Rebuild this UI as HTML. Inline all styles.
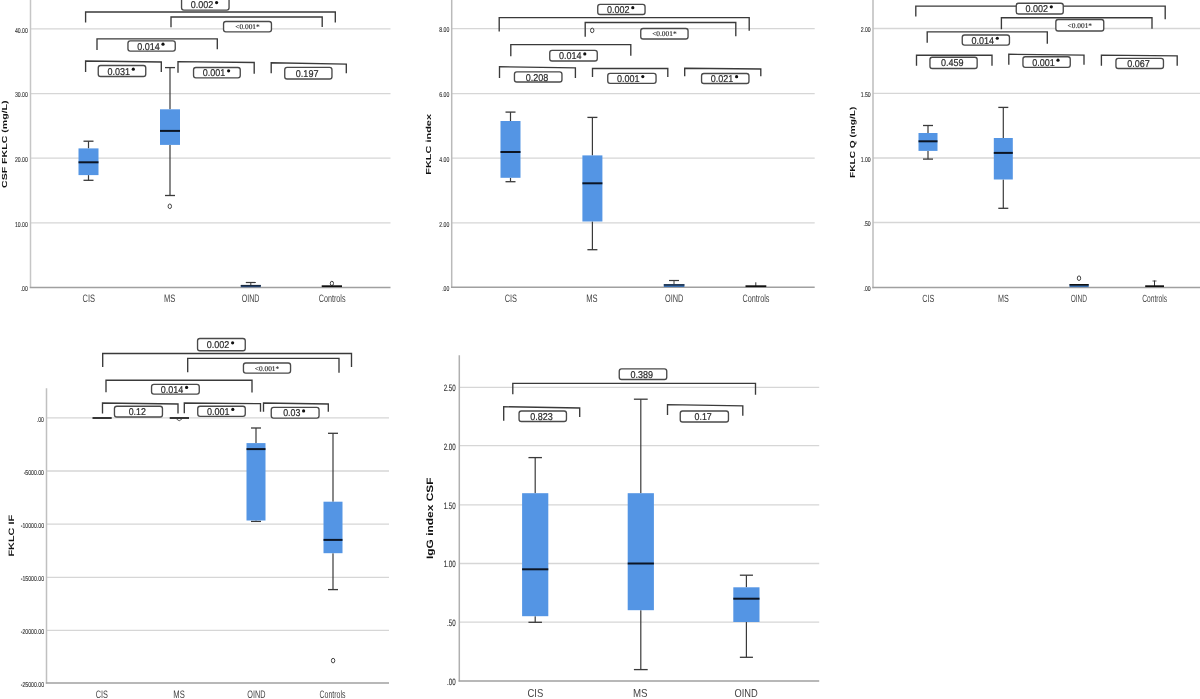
<!DOCTYPE html>
<html><head><meta charset="utf-8"><title>Box plots</title>
<style>html,body{margin:0;padding:0;background:#fff;width:1200px;height:699px;overflow:hidden}svg{display:block;will-change:transform;filter:blur(0.3px);text-rendering:geometricPrecision}</style>
</head><body>
<svg width="1200" height="699" viewBox="0 0 1200 699">
<rect width="1200" height="699" fill="#fff"/>
<line x1="30.5" y1="28.8" x2="390.5" y2="28.8" stroke="#d6d6d6" stroke-width="1.3"/>
<line x1="30.5" y1="93.6" x2="390.5" y2="93.6" stroke="#d6d6d6" stroke-width="1.3"/>
<line x1="30.5" y1="158.1" x2="390.5" y2="158.1" stroke="#d6d6d6" stroke-width="1.3"/>
<line x1="30.5" y1="222.8" x2="390.5" y2="222.8" stroke="#d6d6d6" stroke-width="1.3"/>
<line x1="30.5" y1="0" x2="30.5" y2="288.0" stroke="#c6c6c6" stroke-width="1.5"/>
<line x1="29.8" y1="287.4" x2="390.5" y2="287.4" stroke="#a0a0a0" stroke-width="1.5"/>
<text x="27.8" y="32.6" font-family='"Liberation Sans", sans-serif' font-size="7.1" font-weight="normal" fill="#2e2e2e" text-anchor="end" textLength="12.9" lengthAdjust="spacingAndGlyphs" stroke="#2e2e2e" stroke-width="0.12">40.00</text>
<text x="27.8" y="97.4" font-family='"Liberation Sans", sans-serif' font-size="7.1" font-weight="normal" fill="#2e2e2e" text-anchor="end" textLength="12.9" lengthAdjust="spacingAndGlyphs" stroke="#2e2e2e" stroke-width="0.12">30.00</text>
<text x="27.8" y="161.9" font-family='"Liberation Sans", sans-serif' font-size="7.1" font-weight="normal" fill="#2e2e2e" text-anchor="end" textLength="12.9" lengthAdjust="spacingAndGlyphs" stroke="#2e2e2e" stroke-width="0.12">20.00</text>
<text x="27.8" y="226.6" font-family='"Liberation Sans", sans-serif' font-size="7.1" font-weight="normal" fill="#2e2e2e" text-anchor="end" textLength="12.9" lengthAdjust="spacingAndGlyphs" stroke="#2e2e2e" stroke-width="0.12">10.00</text>
<text x="27.8" y="291.2" font-family='"Liberation Sans", sans-serif' font-size="7.1" font-weight="normal" fill="#2e2e2e" text-anchor="end" textLength="7.16" lengthAdjust="spacingAndGlyphs" stroke="#2e2e2e" stroke-width="0.12">.00</text>
<text transform="translate(7.10,144.20) rotate(-90)" x="0" y="0" font-family='"Liberation Sans", sans-serif' font-size="7.3" font-weight="bold" fill="#111" text-anchor="middle" textLength="87.6" lengthAdjust="spacingAndGlyphs">CSF FKLC (mg/L)</text>
<line x1="88.5" y1="141.2" x2="88.5" y2="148.4" stroke="#3a3a3a" stroke-width="1.2"/>
<line x1="88.5" y1="175.1" x2="88.5" y2="180.3" stroke="#3a3a3a" stroke-width="1.2"/>
<line x1="83.5" y1="141.2" x2="93.5" y2="141.2" stroke="#3a3a3a" stroke-width="1.3"/>
<line x1="83.5" y1="180.3" x2="93.5" y2="180.3" stroke="#3a3a3a" stroke-width="1.3"/>
<rect x="78.50" y="148.4" width="20" height="26.70" fill="#5495e4"/>
<line x1="78.5" y1="162.3" x2="98.5" y2="162.3" stroke="#0c1524" stroke-width="2.0"/>
<line x1="170" y1="67.6" x2="170" y2="109.3" stroke="#3a3a3a" stroke-width="1.2"/>
<line x1="170" y1="144.9" x2="170" y2="195.5" stroke="#3a3a3a" stroke-width="1.2"/>
<line x1="165.0" y1="67.6" x2="175.0" y2="67.6" stroke="#3a3a3a" stroke-width="1.3"/>
<line x1="165.0" y1="195.5" x2="175.0" y2="195.5" stroke="#3a3a3a" stroke-width="1.3"/>
<rect x="160.00" y="109.3" width="20" height="35.60" fill="#5495e4"/>
<line x1="160.0" y1="130.9" x2="180.0" y2="130.9" stroke="#0c1524" stroke-width="2.0"/>
<ellipse cx="169.8" cy="206.3" rx="1.7" ry="2.29" fill="none" stroke="#444" stroke-width="1.0"/>
<line x1="250.8" y1="282.5" x2="250.8" y2="285" stroke="#3a3a3a" stroke-width="1.0"/>
<line x1="245.8" y1="282.5" x2="255.8" y2="282.5" stroke="#3a3a3a" stroke-width="1.2"/>
<rect x="240.8" y="285" width="20" height="2.2" fill="#2d4f80"/>
<line x1="240.8" y1="285.6" x2="260.8" y2="285.6" stroke="#1a2a40" stroke-width="1.4"/>
<ellipse cx="331.9" cy="283.4" rx="1.6" ry="2.16" fill="none" stroke="#444" stroke-width="1.0"/>
<line x1="321.7" y1="286.2" x2="342" y2="286.2" stroke="#111" stroke-width="1.8"/>
<text x="88.75" y="301.9" font-family='"Liberation Sans", sans-serif' font-size="10.89" font-weight="normal" fill="#444" text-anchor="middle" textLength="12.5" lengthAdjust="spacingAndGlyphs">CIS</text>
<text x="169.65" y="301.9" font-family='"Liberation Sans", sans-serif' font-size="10.89" font-weight="normal" fill="#444" text-anchor="middle" textLength="11.3" lengthAdjust="spacingAndGlyphs">MS</text>
<text x="250.6" y="301.9" font-family='"Liberation Sans", sans-serif' font-size="10.89" font-weight="normal" fill="#444" text-anchor="middle" textLength="17.8" lengthAdjust="spacingAndGlyphs">OIND</text>
<text x="332.1" y="301.9" font-family='"Liberation Sans", sans-serif' font-size="10.89" font-weight="normal" fill="#444" text-anchor="middle" textLength="26.8" lengthAdjust="spacingAndGlyphs">Controls</text>
<polyline points="85.6,22.6 85.6,12 335.3,12 335.3,22.5" fill="none" stroke="#3a3a3a" stroke-width="1.35"/>
<polyline points="171,27.3 171,17 322.2,17 322.2,27" fill="none" stroke="#3a3a3a" stroke-width="1.35"/>
<polyline points="97,50 97,38.9 217.3,38.9 217.3,49.3" fill="none" stroke="#3a3a3a" stroke-width="1.35"/>
<polyline points="85.6,72 85.6,61 161.3,62 161.3,72" fill="none" stroke="#3a3a3a" stroke-width="1.35"/>
<polyline points="178,72.7 178,61.6 254.2,62.5 254.2,73.8" fill="none" stroke="#3a3a3a" stroke-width="1.35"/>
<polyline points="271.2,73.3 271.2,62.8 346.3,64.2 346.3,73.3" fill="none" stroke="#3a3a3a" stroke-width="1.35"/>
<rect x="181.55" y="-2.80" width="47.50" height="12.90" rx="2.3" ry="2.3" fill="#fff" stroke="#4a4a4a" stroke-width="1.35"/>
<text x="190.8" y="8.0" font-family='"Liberation Sans", sans-serif' font-size="9.9" font-weight="normal" fill="#2a2a2a" text-anchor="start" textLength="22.6" lengthAdjust="spacingAndGlyphs" stroke="#2a2a2a" stroke-width="0.2">0.002</text>
<circle cx="216.60" cy="2.60" r="1.6" fill="#111"/>
<rect x="223.55" y="21.50" width="47.90" height="10.30" rx="2.3" ry="2.3" fill="#fff" stroke="#4a4a4a" stroke-width="1.35"/>
<text x="247.5" y="29.25" font-family='"Liberation Serif", serif' font-size="7.2" font-weight="normal" fill="#2a2a2a" text-anchor="middle" textLength="24.5" lengthAdjust="spacingAndGlyphs" stroke="#2a2a2a" stroke-width="0.15">&lt;0.001*</text>
<rect x="127.95" y="40.90" width="47.30" height="10.20" rx="2.3" ry="2.3" fill="#fff" stroke="#4a4a4a" stroke-width="1.35"/>
<text x="137.2" y="49.6" font-family='"Liberation Sans", sans-serif' font-size="9.9" font-weight="normal" fill="#2a2a2a" text-anchor="start" textLength="22.6" lengthAdjust="spacingAndGlyphs" stroke="#2a2a2a" stroke-width="0.2">0.014</text>
<circle cx="163.00" cy="44.20" r="1.6" fill="#111"/>
<rect x="98.25" y="65.50" width="47.50" height="11.00" rx="2.3" ry="2.3" fill="#fff" stroke="#4a4a4a" stroke-width="1.35"/>
<text x="107.5" y="74.6" font-family='"Liberation Sans", sans-serif' font-size="9.9" font-weight="normal" fill="#2a2a2a" text-anchor="start" textLength="22.6" lengthAdjust="spacingAndGlyphs" stroke="#2a2a2a" stroke-width="0.2">0.031</text>
<circle cx="133.30" cy="69.20" r="1.6" fill="#111"/>
<rect x="193.55" y="67.50" width="46.70" height="10.30" rx="2.3" ry="2.3" fill="#fff" stroke="#4a4a4a" stroke-width="1.35"/>
<text x="202.8" y="76.25" font-family='"Liberation Sans", sans-serif' font-size="9.9" font-weight="normal" fill="#2a2a2a" text-anchor="start" textLength="22.6" lengthAdjust="spacingAndGlyphs" stroke="#2a2a2a" stroke-width="0.2">0.001</text>
<circle cx="228.60" cy="70.85" r="1.6" fill="#111"/>
<rect x="284.75" y="67.40" width="47.20" height="11.60" rx="2.3" ry="2.3" fill="#fff" stroke="#4a4a4a" stroke-width="1.35"/>
<text x="307.15" y="76.8" font-family='"Liberation Sans", sans-serif' font-size="9.9" font-weight="normal" fill="#2a2a2a" text-anchor="middle" textLength="22.6" lengthAdjust="spacingAndGlyphs" stroke="#2a2a2a" stroke-width="0.2">0.197</text>
<line x1="451.7" y1="28.6" x2="814.7" y2="28.6" stroke="#d6d6d6" stroke-width="1.3"/>
<line x1="451.7" y1="93.6" x2="814.7" y2="93.6" stroke="#d6d6d6" stroke-width="1.3"/>
<line x1="451.7" y1="158.1" x2="814.7" y2="158.1" stroke="#d6d6d6" stroke-width="1.3"/>
<line x1="451.7" y1="222.8" x2="814.7" y2="222.8" stroke="#d6d6d6" stroke-width="1.3"/>
<line x1="451.7" y1="0" x2="451.7" y2="287.8" stroke="#bababa" stroke-width="1.5"/>
<line x1="451.0" y1="287.2" x2="814.7" y2="287.2" stroke="#a0a0a0" stroke-width="1.5"/>
<text x="449.3" y="32.4" font-family='"Liberation Sans", sans-serif' font-size="7.1" font-weight="normal" fill="#2e2e2e" text-anchor="end" textLength="10.03" lengthAdjust="spacingAndGlyphs" stroke="#2e2e2e" stroke-width="0.12">8.00</text>
<text x="449.3" y="97.4" font-family='"Liberation Sans", sans-serif' font-size="7.1" font-weight="normal" fill="#2e2e2e" text-anchor="end" textLength="10.03" lengthAdjust="spacingAndGlyphs" stroke="#2e2e2e" stroke-width="0.12">6.00</text>
<text x="449.3" y="161.9" font-family='"Liberation Sans", sans-serif' font-size="7.1" font-weight="normal" fill="#2e2e2e" text-anchor="end" textLength="10.03" lengthAdjust="spacingAndGlyphs" stroke="#2e2e2e" stroke-width="0.12">4.00</text>
<text x="449.3" y="226.6" font-family='"Liberation Sans", sans-serif' font-size="7.1" font-weight="normal" fill="#2e2e2e" text-anchor="end" textLength="10.03" lengthAdjust="spacingAndGlyphs" stroke="#2e2e2e" stroke-width="0.12">2.00</text>
<text x="449.3" y="291.0" font-family='"Liberation Sans", sans-serif' font-size="7.1" font-weight="normal" fill="#2e2e2e" text-anchor="end" textLength="7.16" lengthAdjust="spacingAndGlyphs" stroke="#2e2e2e" stroke-width="0.12">.00</text>
<text transform="translate(431.30,144.40) rotate(-90)" x="0" y="0" font-family='"Liberation Sans", sans-serif' font-size="7.3" font-weight="bold" fill="#111" text-anchor="middle" textLength="60.8" lengthAdjust="spacingAndGlyphs">FKLC index</text>
<line x1="510.5" y1="112.1" x2="510.5" y2="121" stroke="#3a3a3a" stroke-width="1.2"/>
<line x1="510.5" y1="177.8" x2="510.5" y2="181.7" stroke="#3a3a3a" stroke-width="1.2"/>
<line x1="505.5" y1="112.1" x2="515.5" y2="112.1" stroke="#3a3a3a" stroke-width="1.3"/>
<line x1="505.5" y1="181.7" x2="515.5" y2="181.7" stroke="#3a3a3a" stroke-width="1.3"/>
<rect x="500.50" y="121" width="20" height="56.80" fill="#5495e4"/>
<line x1="500.5" y1="152" x2="520.5" y2="152" stroke="#0c1524" stroke-width="2.0"/>
<line x1="592.4" y1="117.4" x2="592.4" y2="155.4" stroke="#3a3a3a" stroke-width="1.2"/>
<line x1="592.4" y1="221.5" x2="592.4" y2="249.7" stroke="#3a3a3a" stroke-width="1.2"/>
<line x1="587.4" y1="117.4" x2="597.4" y2="117.4" stroke="#3a3a3a" stroke-width="1.3"/>
<line x1="587.4" y1="249.7" x2="597.4" y2="249.7" stroke="#3a3a3a" stroke-width="1.3"/>
<rect x="582.40" y="155.4" width="20" height="66.10" fill="#5495e4"/>
<line x1="582.4" y1="183.3" x2="602.4" y2="183.3" stroke="#0c1524" stroke-width="2.0"/>
<ellipse cx="592.2" cy="30.4" rx="1.7" ry="2.29" fill="none" stroke="#444" stroke-width="1.0"/>
<line x1="674" y1="280.5" x2="674" y2="284.2" stroke="#3a3a3a" stroke-width="1.0"/>
<line x1="669" y1="280.5" x2="679" y2="280.5" stroke="#3a3a3a" stroke-width="1.2"/>
<rect x="663.8" y="284.2" width="20.6" height="2.8" fill="#3a6fb0"/>
<line x1="663.8" y1="284.9" x2="684.4" y2="284.9" stroke="#1a2a40" stroke-width="1.4"/>
<line x1="755.8" y1="282.3" x2="755.8" y2="286" stroke="#333" stroke-width="1.0"/>
<line x1="745.5" y1="286.2" x2="766.3" y2="286.2" stroke="#111" stroke-width="1.8"/>
<text x="510.85" y="301.9" font-family='"Liberation Sans", sans-serif' font-size="10.89" font-weight="normal" fill="#444" text-anchor="middle" textLength="12.3" lengthAdjust="spacingAndGlyphs">CIS</text>
<text x="591.85" y="301.9" font-family='"Liberation Sans", sans-serif' font-size="10.89" font-weight="normal" fill="#444" text-anchor="middle" textLength="11.3" lengthAdjust="spacingAndGlyphs">MS</text>
<text x="674.15" y="301.9" font-family='"Liberation Sans", sans-serif' font-size="10.89" font-weight="normal" fill="#444" text-anchor="middle" textLength="18.3" lengthAdjust="spacingAndGlyphs">OIND</text>
<text x="756.0" y="301.9" font-family='"Liberation Sans", sans-serif' font-size="10.89" font-weight="normal" fill="#444" text-anchor="middle" textLength="27.0" lengthAdjust="spacingAndGlyphs">Controls</text>
<polyline points="499.2,31.5 499.2,17.6 749.2,17.6 749.2,30.8" fill="none" stroke="#3a3a3a" stroke-width="1.35"/>
<polyline points="585.2,36.7 585.2,22.5 735.8,22.5 735.8,36.3" fill="none" stroke="#3a3a3a" stroke-width="1.35"/>
<polyline points="510.8,56.2 510.8,44.6 630.8,44.6 630.8,55.8" fill="none" stroke="#3a3a3a" stroke-width="1.35"/>
<polyline points="499.5,78 499.5,66.7 575.4,67.8 575.4,78" fill="none" stroke="#3a3a3a" stroke-width="1.35"/>
<polyline points="592.5,77 592.5,68.5 667.8,68.5 667.8,77" fill="none" stroke="#3a3a3a" stroke-width="1.35"/>
<polyline points="684.7,76.3 684.7,68.3 760.8,69 760.8,76.3" fill="none" stroke="#3a3a3a" stroke-width="1.35"/>
<rect x="597.75" y="4.40" width="47.30" height="10.10" rx="2.3" ry="2.3" fill="#fff" stroke="#4a4a4a" stroke-width="1.35"/>
<text x="607.0" y="13.05" font-family='"Liberation Sans", sans-serif' font-size="9.9" font-weight="normal" fill="#2a2a2a" text-anchor="start" textLength="22.6" lengthAdjust="spacingAndGlyphs" stroke="#2a2a2a" stroke-width="0.2">0.002</text>
<circle cx="632.80" cy="7.65" r="1.6" fill="#111"/>
<rect x="640.75" y="28.50" width="47.30" height="10.50" rx="2.3" ry="2.3" fill="#fff" stroke="#4a4a4a" stroke-width="1.35"/>
<text x="664.4" y="36.35" font-family='"Liberation Serif", serif' font-size="7.2" font-weight="normal" fill="#2a2a2a" text-anchor="middle" textLength="24.5" lengthAdjust="spacingAndGlyphs" stroke="#2a2a2a" stroke-width="0.15">&lt;0.001*</text>
<rect x="549.75" y="50.40" width="47.50" height="10.60" rx="2.3" ry="2.3" fill="#fff" stroke="#4a4a4a" stroke-width="1.35"/>
<text x="559.0" y="59.3" font-family='"Liberation Sans", sans-serif' font-size="9.9" font-weight="normal" fill="#2a2a2a" text-anchor="start" textLength="22.6" lengthAdjust="spacingAndGlyphs" stroke="#2a2a2a" stroke-width="0.2">0.014</text>
<circle cx="584.80" cy="53.90" r="1.6" fill="#111"/>
<rect x="514.45" y="71.90" width="47.50" height="10.10" rx="2.3" ry="2.3" fill="#fff" stroke="#4a4a4a" stroke-width="1.35"/>
<text x="537.0" y="80.55" font-family='"Liberation Sans", sans-serif' font-size="9.9" font-weight="normal" fill="#2a2a2a" text-anchor="middle" textLength="22.6" lengthAdjust="spacingAndGlyphs" stroke="#2a2a2a" stroke-width="0.2">0.208</text>
<rect x="607.75" y="73.40" width="48.30" height="9.90" rx="2.3" ry="2.3" fill="#fff" stroke="#4a4a4a" stroke-width="1.35"/>
<text x="617.0" y="81.95" font-family='"Liberation Sans", sans-serif' font-size="9.9" font-weight="normal" fill="#2a2a2a" text-anchor="start" textLength="22.6" lengthAdjust="spacingAndGlyphs" stroke="#2a2a2a" stroke-width="0.2">0.001</text>
<circle cx="642.80" cy="76.55" r="1.6" fill="#111"/>
<rect x="701.55" y="73.50" width="47.40" height="10.00" rx="2.3" ry="2.3" fill="#fff" stroke="#4a4a4a" stroke-width="1.35"/>
<text x="710.8" y="82.1" font-family='"Liberation Sans", sans-serif' font-size="9.9" font-weight="normal" fill="#2a2a2a" text-anchor="start" textLength="22.6" lengthAdjust="spacingAndGlyphs" stroke="#2a2a2a" stroke-width="0.2">0.021</text>
<circle cx="736.60" cy="76.70" r="1.6" fill="#111"/>
<line x1="873" y1="28.5" x2="1200" y2="28.5" stroke="#d6d6d6" stroke-width="1.3"/>
<line x1="873" y1="93.4" x2="1200" y2="93.4" stroke="#d6d6d6" stroke-width="1.3"/>
<line x1="873" y1="158" x2="1200" y2="158" stroke="#d6d6d6" stroke-width="1.3"/>
<line x1="873" y1="222.5" x2="1200" y2="222.5" stroke="#d6d6d6" stroke-width="1.3"/>
<line x1="873" y1="0" x2="873" y2="288.20000000000005" stroke="#bdbdbd" stroke-width="1.5"/>
<line x1="872.3" y1="287.6" x2="1200" y2="287.6" stroke="#a0a0a0" stroke-width="1.5"/>
<text x="870.7" y="32.3" font-family='"Liberation Sans", sans-serif' font-size="7.1" font-weight="normal" fill="#2e2e2e" text-anchor="end" textLength="10.03" lengthAdjust="spacingAndGlyphs" stroke="#2e2e2e" stroke-width="0.12">2.00</text>
<text x="870.7" y="97.2" font-family='"Liberation Sans", sans-serif' font-size="7.1" font-weight="normal" fill="#2e2e2e" text-anchor="end" textLength="10.03" lengthAdjust="spacingAndGlyphs" stroke="#2e2e2e" stroke-width="0.12">1.50</text>
<text x="870.7" y="161.8" font-family='"Liberation Sans", sans-serif' font-size="7.1" font-weight="normal" fill="#2e2e2e" text-anchor="end" textLength="10.03" lengthAdjust="spacingAndGlyphs" stroke="#2e2e2e" stroke-width="0.12">1.00</text>
<text x="870.7" y="226.3" font-family='"Liberation Sans", sans-serif' font-size="7.1" font-weight="normal" fill="#2e2e2e" text-anchor="end" textLength="7.16" lengthAdjust="spacingAndGlyphs" stroke="#2e2e2e" stroke-width="0.12">.50</text>
<text x="870.7" y="291.4" font-family='"Liberation Sans", sans-serif' font-size="7.1" font-weight="normal" fill="#2e2e2e" text-anchor="end" textLength="7.16" lengthAdjust="spacingAndGlyphs" stroke="#2e2e2e" stroke-width="0.12">.00</text>
<text transform="translate(855.00,142.30) rotate(-90)" x="0" y="0" font-family='"Liberation Sans", sans-serif' font-size="7.3" font-weight="bold" fill="#111" text-anchor="middle" textLength="71.2" lengthAdjust="spacingAndGlyphs">FKLC Q (mg/L)</text>
<line x1="928" y1="125.5" x2="928" y2="133" stroke="#3a3a3a" stroke-width="1.2"/>
<line x1="928" y1="150.9" x2="928" y2="159.1" stroke="#3a3a3a" stroke-width="1.2"/>
<line x1="923.0" y1="125.5" x2="933.0" y2="125.5" stroke="#3a3a3a" stroke-width="1.3"/>
<line x1="923.0" y1="159.1" x2="933.0" y2="159.1" stroke="#3a3a3a" stroke-width="1.3"/>
<rect x="918.50" y="133" width="19" height="17.90" fill="#5495e4"/>
<line x1="918.5" y1="141.3" x2="937.5" y2="141.3" stroke="#0c1524" stroke-width="2.0"/>
<line x1="1003.3" y1="107.4" x2="1003.3" y2="138" stroke="#3a3a3a" stroke-width="1.2"/>
<line x1="1003.3" y1="179.5" x2="1003.3" y2="208.3" stroke="#3a3a3a" stroke-width="1.2"/>
<line x1="998.3" y1="107.4" x2="1008.3" y2="107.4" stroke="#3a3a3a" stroke-width="1.3"/>
<line x1="998.3" y1="208.3" x2="1008.3" y2="208.3" stroke="#3a3a3a" stroke-width="1.3"/>
<rect x="993.80" y="138" width="19" height="41.50" fill="#5495e4"/>
<line x1="993.8" y1="152.9" x2="1012.8" y2="152.9" stroke="#0c1524" stroke-width="2.0"/>
<ellipse cx="1079" cy="278.2" rx="1.7" ry="2.29" fill="none" stroke="#444" stroke-width="1.0"/>
<rect x="1069.5" y="284.3" width="19.2" height="2.8" fill="#3a6fb0"/>
<line x1="1069.5" y1="284.8" x2="1088.7" y2="284.8" stroke="#111" stroke-width="1.6"/>
<line x1="1154.5" y1="280.5" x2="1154.5" y2="286" stroke="#333" stroke-width="1.0"/>
<line x1="1152.5" y1="281" x2="1156.5" y2="281" stroke="#333" stroke-width="0.8"/>
<line x1="1145.2" y1="286.2" x2="1164" y2="286.2" stroke="#111" stroke-width="1.8"/>
<text x="928.2" y="301.9" font-family='"Liberation Sans", sans-serif' font-size="10.48" font-weight="normal" fill="#444" text-anchor="middle" textLength="12.0" lengthAdjust="spacingAndGlyphs">CIS</text>
<text x="1003.4" y="301.9" font-family='"Liberation Sans", sans-serif' font-size="10.48" font-weight="normal" fill="#444" text-anchor="middle" textLength="10.8" lengthAdjust="spacingAndGlyphs">MS</text>
<text x="1078.85" y="301.9" font-family='"Liberation Sans", sans-serif' font-size="10.48" font-weight="normal" fill="#444" text-anchor="middle" textLength="16.3" lengthAdjust="spacingAndGlyphs">OIND</text>
<text x="1154.6" y="301.9" font-family='"Liberation Sans", sans-serif' font-size="10.48" font-weight="normal" fill="#444" text-anchor="middle" textLength="24.8" lengthAdjust="spacingAndGlyphs">Controls</text>
<polyline points="915.8,16.5 915.8,6.1 1165.2,6.1 1165.2,19.2" fill="none" stroke="#3a3a3a" stroke-width="1.35"/>
<polyline points="1001.4,29.2 1001.4,17.7 1152,17.7 1152,28.8" fill="none" stroke="#3a3a3a" stroke-width="1.35"/>
<polyline points="927.2,42.7 927.2,31.9 1047.3,31.9 1047.3,43.8" fill="none" stroke="#3a3a3a" stroke-width="1.35"/>
<polyline points="916.5,65.7 916.5,55.2 992,55.2 992,65.7" fill="none" stroke="#3a3a3a" stroke-width="1.35"/>
<polyline points="1008.8,64.8 1008.8,54.3 1084,55.2 1084,64.8" fill="none" stroke="#3a3a3a" stroke-width="1.35"/>
<polyline points="1101.4,65.7 1101.4,55.2 1177.2,55.8 1177.2,65.7" fill="none" stroke="#3a3a3a" stroke-width="1.35"/>
<rect x="1016.25" y="3.20" width="47.00" height="10.80" rx="2.3" ry="2.3" fill="#fff" stroke="#4a4a4a" stroke-width="1.35"/>
<text x="1025.5" y="12.2" font-family='"Liberation Sans", sans-serif' font-size="9.9" font-weight="normal" fill="#2a2a2a" text-anchor="start" textLength="22.6" lengthAdjust="spacingAndGlyphs" stroke="#2a2a2a" stroke-width="0.2">0.002</text>
<circle cx="1051.30" cy="6.80" r="1.6" fill="#111"/>
<rect x="1055.85" y="19.50" width="47.90" height="11.50" rx="2.3" ry="2.3" fill="#fff" stroke="#4a4a4a" stroke-width="1.35"/>
<text x="1079.8" y="27.85" font-family='"Liberation Serif", serif' font-size="7.2" font-weight="normal" fill="#2a2a2a" text-anchor="middle" textLength="24.5" lengthAdjust="spacingAndGlyphs" stroke="#2a2a2a" stroke-width="0.15">&lt;0.001*</text>
<rect x="962.25" y="35.00" width="47.20" height="10.10" rx="2.3" ry="2.3" fill="#fff" stroke="#4a4a4a" stroke-width="1.35"/>
<text x="971.5" y="43.65" font-family='"Liberation Sans", sans-serif' font-size="9.9" font-weight="normal" fill="#2a2a2a" text-anchor="start" textLength="22.6" lengthAdjust="spacingAndGlyphs" stroke="#2a2a2a" stroke-width="0.2">0.014</text>
<circle cx="997.30" cy="38.25" r="1.6" fill="#111"/>
<rect x="929.95" y="57.20" width="47.20" height="11.30" rx="2.3" ry="2.3" fill="#fff" stroke="#4a4a4a" stroke-width="1.35"/>
<text x="952.35" y="66.45" font-family='"Liberation Sans", sans-serif' font-size="9.9" font-weight="normal" fill="#2a2a2a" text-anchor="middle" textLength="22.6" lengthAdjust="spacingAndGlyphs" stroke="#2a2a2a" stroke-width="0.2">0.459</text>
<rect x="1022.95" y="56.70" width="47.30" height="10.60" rx="2.3" ry="2.3" fill="#fff" stroke="#4a4a4a" stroke-width="1.35"/>
<text x="1032.2" y="65.6" font-family='"Liberation Sans", sans-serif' font-size="9.9" font-weight="normal" fill="#2a2a2a" text-anchor="start" textLength="22.6" lengthAdjust="spacingAndGlyphs" stroke="#2a2a2a" stroke-width="0.2">0.001</text>
<circle cx="1058.00" cy="60.20" r="1.6" fill="#111"/>
<rect x="1115.95" y="58.40" width="47.50" height="10.10" rx="2.3" ry="2.3" fill="#fff" stroke="#4a4a4a" stroke-width="1.35"/>
<text x="1138.5" y="67.05" font-family='"Liberation Sans", sans-serif' font-size="9.9" font-weight="normal" fill="#2a2a2a" text-anchor="middle" textLength="22.6" lengthAdjust="spacingAndGlyphs" stroke="#2a2a2a" stroke-width="0.2">0.067</text>
<line x1="46.5" y1="417.8" x2="389" y2="417.8" stroke="#d6d6d6" stroke-width="1.3"/>
<line x1="46.5" y1="471" x2="389" y2="471" stroke="#d6d6d6" stroke-width="1.3"/>
<line x1="46.5" y1="524.2" x2="389" y2="524.2" stroke="#d6d6d6" stroke-width="1.3"/>
<line x1="46.5" y1="577.3" x2="389" y2="577.3" stroke="#d6d6d6" stroke-width="1.3"/>
<line x1="46.5" y1="630.4" x2="389" y2="630.4" stroke="#d6d6d6" stroke-width="1.3"/>
<line x1="46.5" y1="388.3" x2="46.5" y2="683.6" stroke="#c0c0c0" stroke-width="1.5"/>
<line x1="45.8" y1="683" x2="389" y2="683" stroke="#a0a0a0" stroke-width="1.5"/>
<text x="44" y="421.6" font-family='"Liberation Sans", sans-serif' font-size="7.1" font-weight="normal" fill="#2e2e2e" text-anchor="end" textLength="7.16" lengthAdjust="spacingAndGlyphs" stroke="#2e2e2e" stroke-width="0.12">.00</text>
<text x="44" y="474.8" font-family='"Liberation Sans", sans-serif' font-size="7.1" font-weight="normal" fill="#2e2e2e" text-anchor="end" textLength="20.35" lengthAdjust="spacingAndGlyphs" stroke="#2e2e2e" stroke-width="0.12">-5000.00</text>
<text x="44" y="528.0" font-family='"Liberation Sans", sans-serif' font-size="7.1" font-weight="normal" fill="#2e2e2e" text-anchor="end" textLength="23.21" lengthAdjust="spacingAndGlyphs" stroke="#2e2e2e" stroke-width="0.12">-10000.00</text>
<text x="44" y="581.1" font-family='"Liberation Sans", sans-serif' font-size="7.1" font-weight="normal" fill="#2e2e2e" text-anchor="end" textLength="23.21" lengthAdjust="spacingAndGlyphs" stroke="#2e2e2e" stroke-width="0.12">-15000.00</text>
<text x="44" y="634.2" font-family='"Liberation Sans", sans-serif' font-size="7.1" font-weight="normal" fill="#2e2e2e" text-anchor="end" textLength="23.21" lengthAdjust="spacingAndGlyphs" stroke="#2e2e2e" stroke-width="0.12">-20000.00</text>
<text x="44" y="686.8" font-family='"Liberation Sans", sans-serif' font-size="7.1" font-weight="normal" fill="#2e2e2e" text-anchor="end" textLength="23.21" lengthAdjust="spacingAndGlyphs" stroke="#2e2e2e" stroke-width="0.12">-25000.00</text>
<text transform="translate(14.00,535.75) rotate(-90)" x="0" y="0" font-family='"Liberation Sans", sans-serif' font-size="7.8" font-weight="bold" fill="#111" text-anchor="middle" textLength="41.7" lengthAdjust="spacingAndGlyphs">FKLC IF</text>
<line x1="92.5" y1="418" x2="111.7" y2="418" stroke="#222" stroke-width="1.8"/>
<line x1="169.7" y1="418" x2="189" y2="418" stroke="#222" stroke-width="1.8"/>
<path d="M176.8,419.2 L179.2,417.6 L181.6,419.2 L179.2,420.8 Z" fill="none" stroke="#333" stroke-width="0.8"/>
<line x1="256" y1="428" x2="256" y2="443.1" stroke="#3a3a3a" stroke-width="1.2"/>
<line x1="256" y1="520.5" x2="256" y2="521.4" stroke="#3a3a3a" stroke-width="1.2"/>
<line x1="251.0" y1="428" x2="261.0" y2="428" stroke="#3a3a3a" stroke-width="1.3"/>
<line x1="251.0" y1="521.4" x2="261.0" y2="521.4" stroke="#3a3a3a" stroke-width="1.3"/>
<rect x="246.50" y="443.1" width="19" height="77.40" fill="#5495e4"/>
<line x1="246.5" y1="449.1" x2="265.5" y2="449.1" stroke="#0c1524" stroke-width="2.0"/>
<line x1="333" y1="433.3" x2="333" y2="501.7" stroke="#3a3a3a" stroke-width="1.2"/>
<line x1="333" y1="553.2" x2="333" y2="589.6" stroke="#3a3a3a" stroke-width="1.2"/>
<line x1="328.0" y1="433.3" x2="338.0" y2="433.3" stroke="#3a3a3a" stroke-width="1.3"/>
<line x1="328.0" y1="589.6" x2="338.0" y2="589.6" stroke="#3a3a3a" stroke-width="1.3"/>
<rect x="323.50" y="501.7" width="19" height="51.50" fill="#5495e4"/>
<line x1="323.5" y1="539.9" x2="342.5" y2="539.9" stroke="#0c1524" stroke-width="2.0"/>
<ellipse cx="333.1" cy="660.6" rx="1.7" ry="2.29" fill="none" stroke="#444" stroke-width="1.0"/>
<text x="101.9" y="698.0" font-family='"Liberation Sans", sans-serif' font-size="10.89" font-weight="normal" fill="#444" text-anchor="middle" textLength="12.2" lengthAdjust="spacingAndGlyphs">CIS</text>
<text x="179.0" y="698.0" font-family='"Liberation Sans", sans-serif' font-size="10.89" font-weight="normal" fill="#444" text-anchor="middle" textLength="11.4" lengthAdjust="spacingAndGlyphs">MS</text>
<text x="256.4" y="698.0" font-family='"Liberation Sans", sans-serif' font-size="10.89" font-weight="normal" fill="#444" text-anchor="middle" textLength="18.2" lengthAdjust="spacingAndGlyphs">OIND</text>
<text x="332.5" y="698.0" font-family='"Liberation Sans", sans-serif' font-size="10.89" font-weight="normal" fill="#444" text-anchor="middle" textLength="26.0" lengthAdjust="spacingAndGlyphs">Controls</text>
<polyline points="102.7,367 102.7,353.5 351.5,353.5 351.5,367" fill="none" stroke="#3a3a3a" stroke-width="1.35"/>
<polyline points="187.7,372.2 187.7,358.3 339,358.3 339,372.7" fill="none" stroke="#3a3a3a" stroke-width="1.35"/>
<polyline points="106,392.2 106,380.2 252,380.2 252,392.5" fill="none" stroke="#3a3a3a" stroke-width="1.35"/>
<polyline points="102.5,413.5 102.5,403 178,404 178,413.5" fill="none" stroke="#3a3a3a" stroke-width="1.35"/>
<polyline points="184.3,413.2 184.3,403 260.5,403.7 260.5,411.7" fill="none" stroke="#3a3a3a" stroke-width="1.35"/>
<polyline points="263.5,411.7 263.5,403 328.3,404 328.3,411.7" fill="none" stroke="#3a3a3a" stroke-width="1.35"/>
<rect x="197.55" y="338.50" width="47.70" height="12.20" rx="2.3" ry="2.3" fill="#fff" stroke="#4a4a4a" stroke-width="1.35"/>
<text x="206.8" y="348.2" font-family='"Liberation Sans", sans-serif' font-size="9.9" font-weight="normal" fill="#2a2a2a" text-anchor="start" textLength="22.6" lengthAdjust="spacingAndGlyphs" stroke="#2a2a2a" stroke-width="0.2">0.002</text>
<circle cx="232.60" cy="342.80" r="1.6" fill="#111"/>
<rect x="243.45" y="363.00" width="47.10" height="10.10" rx="2.3" ry="2.3" fill="#fff" stroke="#4a4a4a" stroke-width="1.35"/>
<text x="267.0" y="370.65" font-family='"Liberation Serif", serif' font-size="7.2" font-weight="normal" fill="#2a2a2a" text-anchor="middle" textLength="24.5" lengthAdjust="spacingAndGlyphs" stroke="#2a2a2a" stroke-width="0.15">&lt;0.001*</text>
<rect x="151.55" y="384.40" width="47.70" height="9.70" rx="2.3" ry="2.3" fill="#fff" stroke="#4a4a4a" stroke-width="1.35"/>
<text x="160.8" y="392.85" font-family='"Liberation Sans", sans-serif' font-size="9.9" font-weight="normal" fill="#2a2a2a" text-anchor="start" textLength="22.6" lengthAdjust="spacingAndGlyphs" stroke="#2a2a2a" stroke-width="0.2">0.014</text>
<circle cx="186.60" cy="387.45" r="1.6" fill="#111"/>
<rect x="114.45" y="406.20" width="48.00" height="10.80" rx="2.3" ry="2.3" fill="#fff" stroke="#4a4a4a" stroke-width="1.35"/>
<text x="137.25" y="415.2" font-family='"Liberation Sans", sans-serif' font-size="9.9" font-weight="normal" fill="#2a2a2a" text-anchor="middle" textLength="17.2" lengthAdjust="spacingAndGlyphs" stroke="#2a2a2a" stroke-width="0.2">0.12</text>
<rect x="197.75" y="406.20" width="47.50" height="10.10" rx="2.3" ry="2.3" fill="#fff" stroke="#4a4a4a" stroke-width="1.35"/>
<text x="207.0" y="414.85" font-family='"Liberation Sans", sans-serif' font-size="9.9" font-weight="normal" fill="#2a2a2a" text-anchor="start" textLength="22.6" lengthAdjust="spacingAndGlyphs" stroke="#2a2a2a" stroke-width="0.2">0.001</text>
<circle cx="232.80" cy="409.45" r="1.6" fill="#111"/>
<rect x="271.25" y="407.40" width="47.80" height="10.70" rx="2.3" ry="2.3" fill="#fff" stroke="#4a4a4a" stroke-width="1.35"/>
<text x="283.2" y="416.35" font-family='"Liberation Sans", sans-serif' font-size="9.9" font-weight="normal" fill="#2a2a2a" text-anchor="start" textLength="17.2" lengthAdjust="spacingAndGlyphs" stroke="#2a2a2a" stroke-width="0.2">0.03</text>
<circle cx="303.60" cy="410.95" r="1.6" fill="#111"/>
<line x1="459.3" y1="387.3" x2="819.2" y2="387.3" stroke="#d6d6d6" stroke-width="1.3"/>
<line x1="459.3" y1="445.7" x2="819.2" y2="445.7" stroke="#d6d6d6" stroke-width="1.3"/>
<line x1="459.3" y1="504.8" x2="819.2" y2="504.8" stroke="#d6d6d6" stroke-width="1.3"/>
<line x1="459.3" y1="563.5" x2="819.2" y2="563.5" stroke="#d6d6d6" stroke-width="1.3"/>
<line x1="459.3" y1="622.1" x2="819.2" y2="622.1" stroke="#d6d6d6" stroke-width="1.3"/>
<line x1="459.3" y1="355.3" x2="459.3" y2="681.6" stroke="#b0b0b0" stroke-width="1.5"/>
<line x1="458.6" y1="681" x2="819.2" y2="681" stroke="#a0a0a0" stroke-width="1.5"/>
<text x="455.7" y="391.2" font-family='"Liberation Sans", sans-serif' font-size="9.4" font-weight="normal" fill="#2e2e2e" text-anchor="end" textLength="12.07" lengthAdjust="spacingAndGlyphs" stroke="#2e2e2e" stroke-width="0.12">2.50</text>
<text x="455.7" y="449.6" font-family='"Liberation Sans", sans-serif' font-size="9.4" font-weight="normal" fill="#2e2e2e" text-anchor="end" textLength="12.07" lengthAdjust="spacingAndGlyphs" stroke="#2e2e2e" stroke-width="0.12">2.00</text>
<text x="455.7" y="508.7" font-family='"Liberation Sans", sans-serif' font-size="9.4" font-weight="normal" fill="#2e2e2e" text-anchor="end" textLength="12.07" lengthAdjust="spacingAndGlyphs" stroke="#2e2e2e" stroke-width="0.12">1.50</text>
<text x="455.7" y="567.4" font-family='"Liberation Sans", sans-serif' font-size="9.4" font-weight="normal" fill="#2e2e2e" text-anchor="end" textLength="12.07" lengthAdjust="spacingAndGlyphs" stroke="#2e2e2e" stroke-width="0.12">1.00</text>
<text x="455.7" y="626.0" font-family='"Liberation Sans", sans-serif' font-size="9.4" font-weight="normal" fill="#2e2e2e" text-anchor="end" textLength="8.62" lengthAdjust="spacingAndGlyphs" stroke="#2e2e2e" stroke-width="0.12">.50</text>
<text x="455.7" y="684.9" font-family='"Liberation Sans", sans-serif' font-size="9.4" font-weight="normal" fill="#2e2e2e" text-anchor="end" textLength="8.62" lengthAdjust="spacingAndGlyphs" stroke="#2e2e2e" stroke-width="0.12">.00</text>
<text transform="translate(432.60,518.25) rotate(-90)" x="0" y="0" font-family='"Liberation Sans", sans-serif' font-size="9.3" font-weight="bold" fill="#111" text-anchor="middle" textLength="81.5" lengthAdjust="spacingAndGlyphs">IgG index CSF</text>
<line x1="535.2" y1="457.6" x2="535.2" y2="493.2" stroke="#3a3a3a" stroke-width="1.2"/>
<line x1="535.2" y1="616.2" x2="535.2" y2="622.3" stroke="#3a3a3a" stroke-width="1.2"/>
<line x1="528.45" y1="457.6" x2="541.95" y2="457.6" stroke="#3a3a3a" stroke-width="1.3"/>
<line x1="528.45" y1="622.3" x2="541.95" y2="622.3" stroke="#3a3a3a" stroke-width="1.3"/>
<rect x="522.10" y="493.2" width="26.2" height="123.00" fill="#5495e4"/>
<line x1="522.1" y1="569.3" x2="548.3000000000001" y2="569.3" stroke="#0c1524" stroke-width="2.0"/>
<line x1="640.8" y1="399.2" x2="640.8" y2="493.2" stroke="#3a3a3a" stroke-width="1.2"/>
<line x1="640.8" y1="610.2" x2="640.8" y2="669.6" stroke="#3a3a3a" stroke-width="1.2"/>
<line x1="633.9" y1="399.2" x2="647.6999999999999" y2="399.2" stroke="#3a3a3a" stroke-width="1.3"/>
<line x1="633.9" y1="669.6" x2="647.6999999999999" y2="669.6" stroke="#3a3a3a" stroke-width="1.3"/>
<rect x="627.70" y="493.2" width="26.2" height="117.00" fill="#5495e4"/>
<line x1="627.6999999999999" y1="563.5" x2="653.9" y2="563.5" stroke="#0c1524" stroke-width="2.0"/>
<line x1="746.4" y1="575.2" x2="746.4" y2="587.3" stroke="#3a3a3a" stroke-width="1.2"/>
<line x1="746.4" y1="622" x2="746.4" y2="657.3" stroke="#3a3a3a" stroke-width="1.2"/>
<line x1="739.85" y1="575.2" x2="752.9499999999999" y2="575.2" stroke="#3a3a3a" stroke-width="1.3"/>
<line x1="739.85" y1="657.3" x2="752.9499999999999" y2="657.3" stroke="#3a3a3a" stroke-width="1.3"/>
<rect x="733.30" y="587.3" width="26.2" height="34.70" fill="#5495e4"/>
<line x1="733.3" y1="598.7" x2="759.5" y2="598.7" stroke="#0c1524" stroke-width="2.0"/>
<text x="535.35" y="697.0" font-family='"Liberation Sans", sans-serif' font-size="11.57" font-weight="normal" fill="#444" text-anchor="middle" textLength="15.7" lengthAdjust="spacingAndGlyphs">CIS</text>
<text x="640.25" y="697.0" font-family='"Liberation Sans", sans-serif' font-size="11.57" font-weight="normal" fill="#444" text-anchor="middle" textLength="14.5" lengthAdjust="spacingAndGlyphs">MS</text>
<text x="746.15" y="697.0" font-family='"Liberation Sans", sans-serif' font-size="11.57" font-weight="normal" fill="#444" text-anchor="middle" textLength="23.3" lengthAdjust="spacingAndGlyphs">OIND</text>
<polyline points="512.8,394.2 512.8,383.3 755.5,383.3 755.5,394.7" fill="none" stroke="#3a3a3a" stroke-width="1.35"/>
<polyline points="503.7,420.8 503.7,406.7 579.7,408 579.7,417" fill="none" stroke="#3a3a3a" stroke-width="1.35"/>
<polyline points="667.5,415 667.5,404.7 742.8,405.8 742.8,415.8" fill="none" stroke="#3a3a3a" stroke-width="1.35"/>
<rect x="619.25" y="368.90" width="47.50" height="10.60" rx="2.3" ry="2.3" fill="#fff" stroke="#4a4a4a" stroke-width="1.35"/>
<text x="641.8" y="377.8" font-family='"Liberation Sans", sans-serif' font-size="9.9" font-weight="normal" fill="#2a2a2a" text-anchor="middle" textLength="22.6" lengthAdjust="spacingAndGlyphs" stroke="#2a2a2a" stroke-width="0.2">0.389</text>
<rect x="519.05" y="411.00" width="47.40" height="10.50" rx="2.3" ry="2.3" fill="#fff" stroke="#4a4a4a" stroke-width="1.35"/>
<text x="541.55" y="419.85" font-family='"Liberation Sans", sans-serif' font-size="9.9" font-weight="normal" fill="#2a2a2a" text-anchor="middle" textLength="22.6" lengthAdjust="spacingAndGlyphs" stroke="#2a2a2a" stroke-width="0.2">0.823</text>
<rect x="680.25" y="411.00" width="48.20" height="11.00" rx="2.3" ry="2.3" fill="#fff" stroke="#4a4a4a" stroke-width="1.35"/>
<text x="703.15" y="420.1" font-family='"Liberation Sans", sans-serif' font-size="9.9" font-weight="normal" fill="#2a2a2a" text-anchor="middle" textLength="17.2" lengthAdjust="spacingAndGlyphs" stroke="#2a2a2a" stroke-width="0.2">0.17</text>
</svg>
</body></html>
